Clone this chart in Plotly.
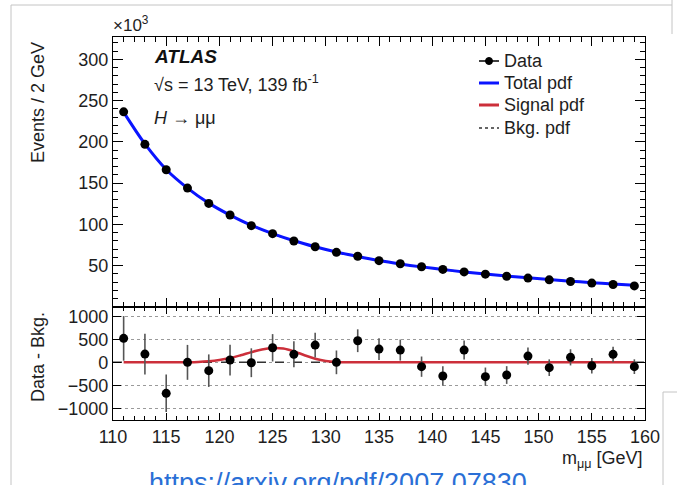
import plotly.graph_objects as go

# ---- data -------------------------------------------------------------
mass = [111, 113, 115, 117, 119, 121, 123, 125, 127, 129, 131, 133, 135,
        137, 139, 141, 143, 145, 147, 149, 151, 153, 155, 157, 159]

# events per 2 GeV, in units of 10^3
events_k = [236.4, 197.0, 166.2, 144.0, 125.5, 111.4, 98.5, 88.8, 79.9, 73.0,
            66.2, 61.4, 56.1, 52.4, 48.8, 45.5, 42.5, 39.8, 37.3, 35.0,
            32.9, 30.9, 29.0, 27.2, 25.5]

# fitted total and background pdf, in units of 10^3
total_pdf_k = [236.0, 197.5, 166.5, 144.0, 125.8, 111.3, 99.0, 88.9, 80.3, 73.0,
               66.6, 61.2, 56.3, 52.2, 48.6, 45.4, 42.5, 39.9, 37.5, 35.3,
               33.2, 31.3, 29.5, 27.8, 26.2]
bkg_pdf_k = [236.0, 197.5, 166.5, 144.0, 125.7, 111.2, 98.7, 88.6, 80.1, 72.9,
             66.6, 61.2, 56.3, 52.2, 48.6, 45.4, 42.5, 39.9, 37.5, 35.3,
             33.2, 31.3, 29.5, 27.8, 26.2]

# data minus background, with statistical uncertainty
residual = [522, 180, -674, 0, -181, 50, -8, 317, 174, 376, 0, 471, 289,
            267, -94, -297, 267, -312, -276, 137, -116, 109, -73, 174, -94]
residual_err = [486, 444, 408, 380, 354, 334, 314, 298, 283, 270, 258, 248,
                237, 229, 221, 213, 206, 199, 193, 187, 181, 176, 170, 165, 160]

# signal pdf in the residual panel
signal_mass = [111, 116, 117, 118, 119, 120, 121, 122, 123, 124, 125, 126,
               127, 128, 129, 130, 131, 132, 134, 159]
signal_pdf = [0, 0, 3, 10, 25, 52, 95, 155, 222, 282, 312, 300,
              240, 155, 80, 30, 9, 2, 0, 0]

# ---- geometry helpers (pixels -> paper) -------------------------------
W, H = 677, 485
L, R, T, B = 113, 645, 37, 420
SPLIT = 307


def px(x):
    return (x - L) / (R - L)


def py(y):
    return (B - y) / (B - T)


split_frac = (B - SPLIT) / (B - T)

FONT = "Liberation Sans, Arial, Helvetica, sans-serif"
TXT = "#1e1e1e"
BLUE = "#0a14ff"
RED = "#cc2f3a"

fig = go.Figure()

# upper panel
fig.add_trace(go.Scatter(x=mass, y=bkg_pdf_k, mode="lines",
                         line=dict(color="#333333", width=1.5, dash="dash"),
                         line_shape="spline", xaxis="x", yaxis="y",
                         showlegend=False, hoverinfo="skip"))
fig.add_trace(go.Scatter(x=mass, y=total_pdf_k, mode="lines",
                         line=dict(color=BLUE, width=3), line_shape="spline",
                         xaxis="x", yaxis="y", showlegend=False))
fig.add_trace(go.Scatter(x=mass, y=events_k, mode="markers",
                         marker=dict(color="black", size=9),
                         xaxis="x", yaxis="y", showlegend=False))

# lower panel
fig.add_trace(go.Scatter(x=[110, 160], y=[0, 0], mode="lines",
                         line=dict(color="#333333", width=1.5, dash="dash"),
                         xaxis="x2", yaxis="y2", showlegend=False,
                         hoverinfo="skip"))
fig.add_trace(go.Scatter(x=signal_mass, y=signal_pdf, mode="lines",
                         line=dict(color=RED, width=2.5), line_shape="spline",
                         xaxis="x2", yaxis="y2", showlegend=False))
fig.add_trace(go.Scatter(x=mass, y=residual, mode="markers",
                         marker=dict(color="black", size=9),
                         error_y=dict(type="data", array=residual_err,
                                      color="#555555", thickness=1.6, width=0),
                         xaxis="x2", yaxis="y2", showlegend=False))

axis_common = dict(showline=True, linecolor="black", linewidth=1.2,
                   mirror="ticks", ticks="inside", tickcolor="black",
                   showgrid=False, zeroline=False,
                   tickfont=dict(family=FONT, size=18, color=TXT))

fig.update_layout(
    width=W, height=H,
    margin=dict(l=L, r=W - R, t=T, b=H - B, pad=0),
    paper_bgcolor="white", plot_bgcolor="white",
    font=dict(family=FONT, color=TXT),
    xaxis=dict(axis_common, domain=[0, 1], anchor="y", range=[110, 160],
               tick0=110, dtick=5, ticklen=9, showticklabels=False,
               minor=dict(tick0=110, dtick=1, ticklen=5, ticks="inside",
                          tickcolor="black")),
    yaxis=dict(axis_common, domain=[split_frac, 1], anchor="x",
               range=[0, 327], tickmode="array",
               tickvals=[50, 100, 150, 200, 250, 300], ticklen=10,
               minor=dict(tickmode="linear", tick0=0, dtick=10, ticklen=5,
                          ticks="inside", tickcolor="black")),
    xaxis2=dict(axis_common, domain=[0, 1], anchor="y2", range=[110, 160],
                tick0=110, dtick=5, ticklen=7,
                minor=dict(tick0=110, dtick=1, ticklen=4, ticks="inside",
                           tickcolor="black")),
    yaxis2=dict(axis_common, domain=[0, split_frac], anchor="x2",
                range=[-1255, 1205], tickmode="array",
                tickvals=[-1000, -500, 0, 500, 1000], ticklen=8,
                showgrid=True, gridcolor="#9a9a9a", griddash="dot",
                gridwidth=1),
)


def label(text, x, y, size=18, xanchor="left", yanchor="middle",
          angle=0, color=TXT):
    return dict(text=text, x=px(x), y=py(y), xref="paper", yref="paper",
                xanchor=xanchor, yanchor=yanchor, textangle=angle,
                showarrow=False, font=dict(family=FONT, size=size, color=color))


ann = [
    # axis titles
    label("Events / 2 GeV", 38, 103, xanchor="center", angle=-90),
    label("Data - Bkg.", 38, 357, xanchor="center", angle=-90),
    label("m<sub>μμ</sub> [GeV]", 645, 459, xanchor="right"),
    label("×10<sup>3</sup>", 111, 24, size=17),
    # labels inside the upper panel
    label("<b><i>ATLAS</i></b>", 152, 56, size=19, color="#111111"),
    label("√s = 13 TeV, 139 fb<sup>-1</sup>", 152, 84),
    label("<i>H</i> → μμ", 152, 118),
    # source link below the chart
    label("https://arxiv.org/pdf/2007.07830", 338, 466, size=27,
          xanchor="center", yanchor="top", color="#2a6fd6"),
]

# legend
legend_rows = [("Data", 61), ("Total pdf", 83), ("Signal pdf", 105),
               ("Bkg. pdf", 128)]
for text, yy in legend_rows:
    ann.append(label(text, 502, yy))

shapes = []
# legend keys
shapes.append(dict(type="line", xref="paper", yref="paper",
                   x0=px(479), x1=px(499), y0=py(61), y1=py(61),
                   line=dict(color="black", width=1.5)))
shapes.append(dict(type="circle", xref="paper", yref="paper",
                   x0=px(485.5), x1=px(492.5), y0=py(57.5), y1=py(64.5),
                   fillcolor="black", line=dict(color="black", width=1)))
shapes.append(dict(type="line", xref="paper", yref="paper",
                   x0=px(479), x1=px(499), y0=py(83), y1=py(83),
                   line=dict(color=BLUE, width=3)))
shapes.append(dict(type="line", xref="paper", yref="paper",
                   x0=px(479), x1=px(499), y0=py(105), y1=py(105),
                   line=dict(color=RED, width=3)))
shapes.append(dict(type="line", xref="paper", yref="paper",
                   x0=px(479), x1=px(499), y0=py(128), y1=py(128),
                   line=dict(color="#333333", width=1.5, dash="dot")))

# surrounding page frame
frame = dict(color="#c4c4c4", width=1)
shapes.append(dict(type="line", xref="paper", yref="paper",
                   x0=px(11), x1=px(11), y0=py(5), y1=py(490), line=frame))
shapes.append(dict(type="line", xref="paper", yref="paper",
                   x0=px(11), x1=px(672), y0=py(5), y1=py(5), line=frame))
shapes.append(dict(type="line", xref="paper", yref="paper",
                   x0=px(672), x1=px(672), y0=py(0), y1=py(34), line=frame))
shapes.append(dict(type="line", xref="paper", yref="paper",
                   x0=px(663), x1=px(663), y0=py(392), y1=py(490), line=frame))
shapes.append(dict(type="line", xref="paper", yref="paper",
                   x0=px(663), x1=px(677), y0=py(392), y1=py(392), line=frame))

fig.update_layout(annotations=ann, shapes=shapes)

fig.write_html("out.html")
